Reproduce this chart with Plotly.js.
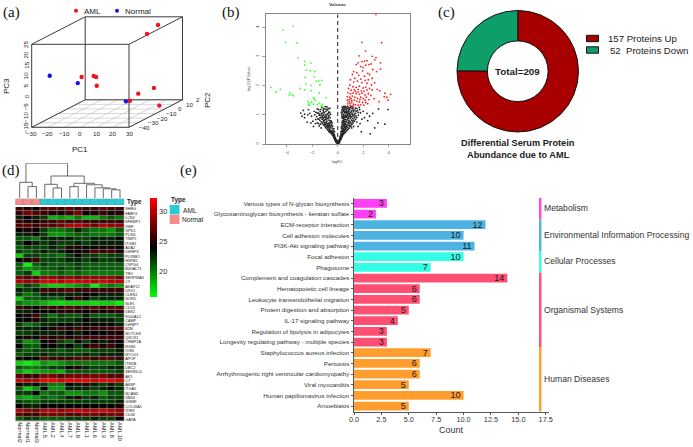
<!DOCTYPE html>
<html><head><meta charset="utf-8">
<script src="https://cdn.plot.ly/plotly-3.0.1.min.js"></script>
<style>html,body{margin:0;padding:0;background:#fff}#c{width:693px;height:447px}</style>
</head><body><div id="c"></div>
<script>
// ---------- panel (a) data: PC1, PC2, PC3
const amlPC1=[18.2,14.7,-15.7,-8.3,-6.8,-6.4,19.2,22.3,17.4,28.9];
const amlPC2=[14,8,-10,-10,-10,-10,-10,2,-16,-4];
const amlPC3=[22.4,19.4,2.6,3.1,2.6,-1.6,-5.4,-5.3,-7.5,-12.5];
const normPC1=[-25.5,-14.8,14.9];
const normPC2=[-28,-16,-16];
const normPC3=[7.2,1,-7.8];
const pc1Ticks=[-30,-20,-10,0,10,20,30];
const pc2Ticks=[-40,-30,-20,-10,0,10,20];
const pc2TickText=['−40','−30','−20','−10','0','10','2'];
const pc3Ticks=[-15,-10,-5,0,5,10,15,20,25];
// ---------- panel (b) data: [logFC, -log10(P.Value)]
const volcanoGreen=[[-3.5,4.03],[-4.3,3.9],[-4.1,3.48],[-3.2,3.46],[-3.1,2.95],[-2.6,2.83],[-2.1,2.77],[-2.6,2.7],[-2.45,2.53],[-2.15,2.51],[-1.8,2.48],[-1.85,2.3],[-2.55,2.28],[-1.7,2.15],[-1.5,2.16],[-1.25,2.18],[-5.25,1.94],[-4.85,1.78],[-4.5,1.87],[-3.75,1.77],[-3.8,1.68],[-3.6,1.69],[-3.47,1.65],[-2.95,1.9],[-2.6,1.85],[-2.5,2.05],[-2.1,2.01],[-1.4,2.03],[-1.45,1.74],[-2.1,1.83],[-1.85,1.55],[-0.9,1.58],[-2.35,1.47],[-2.25,1.4],[-1.9,1.36],[-1.6,1.35],[-1.3,1.31],[-1.12,1.28],[-2.2,1.33],[-1.78,1.5],[-2.05,1.43],[-1.45,1.4],[-1.2,1.36],[-1.9,1.58],[-2.3,1.34]];
const volcanoRed=[[3.0,4.43],[1.9,3.48],[3.45,3.47],[2.17,3.18],[2.7,3.0],[3.0,2.96],[1.67,3.02],[2.9,2.88],[2.3,2.85],[2.1,2.84],[1.9,2.82],[1.6,2.78],[1.45,2.72],[2.45,2.72],[2.62,2.74],[3.35,2.78],[2.2,2.7],[1.8,2.65],[2.0,2.62],[2.75,2.55],[3.35,2.56],[3.05,2.48],[1.25,2.48],[1.5,2.44],[1.95,2.5],[2.35,2.42],[1.15,2.38],[1.65,2.35],[2.1,2.32],[2.5,2.38],[1.35,2.25],[1.8,2.22],[2.15,2.18],[2.4,2.2],[2.7,2.25],[1.0,2.2],[1.25,2.12],[1.55,2.15],[1.9,2.1],[2.3,2.08],[2.65,2.02],[2.9,2.1],[0.95,2.02],[1.2,1.96],[1.45,1.94],[1.7,1.98],[2.0,1.92],[2.2,1.95],[2.5,1.9],[2.3,1.85],[0.85,1.9],[1.05,1.84],[1.3,1.85],[1.6,1.87],[1.85,1.82],[2.05,1.8],[2.7,1.85],[0.8,1.76],[1.0,1.72],[1.2,1.75],[1.45,1.72],[1.7,1.7],[1.9,1.74],[2.15,1.68],[2.4,1.72],[2.6,1.66],[0.75,1.62],[0.95,1.6],[1.15,1.64],[1.35,1.6],[1.55,1.56],[1.8,1.6],[2.0,1.55],[2.25,1.6],[2.15,1.5],[2.45,1.52],[0.75,1.5],[0.9,1.52],[1.1,1.48],[1.3,1.5],[1.5,1.46],[1.7,1.44],[1.95,1.42],[2.2,1.42],[2.35,1.38],[0.8,1.4],[0.95,1.38],[1.1,1.42],[1.25,1.36],[1.4,1.34],[1.6,1.33],[1.8,1.34],[2.05,1.33],[0.78,1.32],[1.0,1.31],[1.2,1.3],[3.1,1.87],[3.3,1.82],[3.7,1.74],[3.85,1.6],[3.95,1.5],[4.15,1.7],[3.25,1.45],[3.65,1.62],[2.85,1.55],[0.9,1.45],[1.05,1.55],[1.6,1.78],[1.4,1.8],[1.75,1.52]];
const volcanoBlack=[[-0.02,0.01],[0.03,0.02],[-0.05,0.03],[0.06,0.04],[-0.08,0.05],[0.09,0.03],[0.01,0.06],[-0.11,0.07],[0.12,0.08],[-0.14,0.06],[0.15,0.05],[-0.03,0.09],[0.05,0.1],[-0.17,0.1],[0.18,0.11],[-0.09,0.12],[0.1,0.13],[-0.2,0.13],[0.22,0.14],[-0.13,0.15],[0.14,0.16],[-0.24,0.16],[0.26,0.17],[-0.18,0.18],[0.2,0.19],[-0.28,0.2],[0.3,0.21],[-0.22,0.22],[0.24,0.23],[-0.32,0.24],[0.34,0.25],[-0.26,0.26],[0.28,0.27],[-0.36,0.28],[0.38,0.29],[-0.3,0.3],[0.32,0.31],[-0.42,0.31],[0.43,0.33],[-0.34,0.34],[0.36,0.35],[-0.48,0.35],[0.5,0.36],[-0.4,0.37],[0.41,0.38],[-0.55,0.38],[0.57,0.39],[-0.46,0.4],[0.46,0.41],[-0.62,0.41],[0.64,0.42],[-0.52,0.44],[0.35,0.44],[-0.7,0.45],[0.52,0.45],[0.72,0.46],[-0.58,0.47],[0.4,0.48],[-0.78,0.48],[0.6,0.49],[0.8,0.5],[-0.66,0.5],[0.47,0.52],[-0.85,0.52],[0.68,0.53],[0.88,0.54],[-0.72,0.55],[0.38,0.55],[-0.93,0.56],[0.55,0.57],[0.76,0.58],[-0.8,0.58],[0.96,0.59],[-0.55,0.6],[-1.0,0.6],[0.43,0.6],[0.63,0.61],[1.04,0.62],[-0.88,0.63],[0.84,0.63],[-1.1,0.65],[-0.64,0.65],[0.5,0.65],[0.72,0.66],[1.12,0.67],[-0.95,0.68],[0.36,0.68],[0.92,0.69],[-1.2,0.7],[-0.72,0.7],[0.58,0.7],[1.2,0.72],[-1.03,0.73],[0.8,0.72],[0.45,0.74],[-0.62,0.75],[-1.3,0.76],[1.0,0.75],[0.66,0.76],[1.3,0.78],[-0.85,0.78],[-1.12,0.79],[0.52,0.78],[0.88,0.8],[0.38,0.8],[-1.4,0.81],[-0.7,0.82],[1.08,0.82],[0.74,0.83],[-0.98,0.84],[1.4,0.84],[0.6,0.84],[-1.22,0.85],[0.45,0.86],[-1.55,0.86],[0.96,0.87],[-0.78,0.88],[1.18,0.88],[0.82,0.89],[-1.08,0.9],[0.34,0.89],[0.54,0.91],[-1.32,0.91],[1.5,0.91],[0.68,0.92],[-0.9,0.93],[1.05,0.93],[-1.65,0.94],[0.42,0.94],[0.9,0.95],[-0.72,0.96],[1.28,0.96],[-1.18,0.97],[0.6,0.97],[-1.45,0.98],[0.76,0.99],[1.62,0.99],[0.48,1.0],[-0.98,1.0],[1.0,1.0],[-1.8,1.0],[0.32,1.01],[1.15,1.02],[-0.82,1.03],[0.66,1.03],[-1.28,1.04],[0.85,1.05],[1.4,1.05],[0.4,1.06],[-1.6,1.06],[-1.05,1.07],[0.55,1.07],[1.78,1.07],[0.98,1.08],[-2.2,1.05],[0.72,1.09],[-0.7,1.09],[1.25,1.1],[0.36,1.11],[-1.38,1.11],[-0.92,1.12],[0.6,1.12],[-2.6,1.02],[1.08,1.13],[0.85,1.14],[0.46,1.14],[-1.15,1.15],[1.55,1.15],[0.7,1.16],[-0.78,1.16],[2.0,1.12],[0.32,1.17],[0.95,1.18],[-1.5,1.18],[0.55,1.19],[1.2,1.2],[-1.0,1.2],[-2.3,1.18],[0.4,1.21],[0.78,1.21],[-0.62,1.22],[2.3,1.05],[0.65,1.23],[1.38,1.23],[0.88,1.25],[0.5,1.25],[-1.25,1.25],[-2.7,1.15],[0.35,1.26],[1.7,1.25],[0.74,1.27],[-0.85,1.27],[1.05,1.28],[0.58,1.29],[2.5,0.95],[2.75,1.05],[3.2,1.2],[3.95,1.18],[3.7,0.68],[3.15,0.72],[2.1,0.9],[2.35,0.8],[1.9,0.85],[1.75,0.7],[2.55,0.35],[1.85,0.42],[1.5,0.75],[1.6,0.6],[2.9,0.55],[-1.95,0.78],[-2.05,0.95],[-2.4,0.75],[-1.75,0.7],[-2.6,0.9],[-1.6,0.72],[-1.45,0.62],[-2.1,0.72],[-1.9,0.6],[-1.3,0.55],[-2.8,0.95],[-2.9,1.06],[-2.35,1.0],[1.1,0.55],[1.25,0.6],[-0.4,0.62],[-0.5,0.78],[-0.6,0.9],[0.25,0.42],[-0.25,0.42],[0.28,0.55],[-0.3,0.52],
[0.31,0.62],[0.39,0.66],[0.33,0.74],[0.44,0.79],[0.49,0.7],[0.53,0.84],[0.42,0.9],[0.47,0.96],[0.56,0.75],[0.62,0.68],[0.69,0.78],[0.58,0.93],[0.63,1.08],[0.71,0.95],[0.79,1.02],[0.83,0.94],[0.87,1.1],[0.93,1.02],[0.78,0.86],[0.9,0.76],[1.02,0.9],[0.98,0.96],[1.1,1.06],[1.16,0.96],[1.22,1.14],[1.12,1.22],[1.3,1.02],[1.35,1.16],[1.45,1.12],[1.5,1.22],[1.33,0.9],[1.24,0.82],[1.15,0.78],[1.06,0.7],[0.95,0.64],[0.85,0.72],[1.42,0.96],[1.6,1.08],[1.72,1.18],[0.53,0.62],[0.61,0.55],[0.7,0.6],[0.49,0.48],[0.42,0.52],[0.55,0.5],[0.33,0.52],[0.3,0.44],[0.27,0.36],[0.23,0.3],[0.19,0.25],[0.17,0.2],[0.29,0.33],[0.37,0.42],[0.45,0.6],[0.34,0.95],[0.29,1.08],[0.43,1.18],[0.51,1.12],[0.67,1.17],[0.77,1.1],[0.9,1.2],[1.0,1.25],[1.18,1.27],[0.62,1.26],[0.47,1.29],
[-0.33,0.45],[-0.38,0.52],[-0.45,0.55],[-0.5,0.65],[-0.43,0.72],[-0.54,0.72],[-0.58,0.8],[-0.66,0.72],[-0.75,0.62],[-0.68,0.6],[-0.83,0.7],[-0.9,0.74],[-0.95,0.9],[-0.74,0.9],[-0.66,0.98],[-0.56,1.02],[-0.63,1.08],[-0.76,1.04],[-0.88,0.98],[-1.02,0.94],[-1.12,1.0],[-1.22,0.92],[-1.3,0.98],[-1.38,0.9],[-1.48,0.85],[-1.15,0.86],[-1.05,0.8],[-1.18,0.74],[-0.98,0.72],[-1.35,0.68],[-1.5,0.7],[-1.42,1.02],[-1.52,1.06],[-1.7,1.08],[-1.72,0.84],[-1.1,1.1],[-1.2,1.06],[-0.87,1.18],[-0.75,1.22],[-0.98,1.28],[-1.12,1.2],[-1.35,1.18],[-1.6,1.2],[-1.85,1.12],[-0.5,0.46],[-0.6,0.55],[-0.68,0.42],[-0.44,0.44],[-0.37,0.4],[-0.27,0.33],[-0.24,0.28],[-0.2,0.22],[-0.16,0.17],[-0.78,0.67],[-0.88,0.84],[-1.02,0.66],[-0.83,0.6]];
// ---------- panel (c) data
const pieLabels=['157 Proteins Up','52  Proteins Down'];
const pieValues=[157,52];
// ---------- panel (d) data
const geneColumns=['Normal2','Normal1','Normal3','AML.5','AML.2','AML.4','AML.7','AML.9','AML.1','AML.6','AML.3','AML.8','AML.10'];
const columnType=[1,1,1,0,0,0,0,0,0,0,0,0,0];
const geneNames=['SHBG','FABP4','LCN2','EFEMP1','VWF','GPD1','PLIN1','TIMP2','ITGB3','ADA2','IGFBP3','PLXNB1','HSPB1','CSPG4','B4GALT1','TIE1','SERPINA3','C9','AKAP12','LRG1','CLEN1','SORD','NLE1','CD14','DBS2','S100A12','CAMP','IGFBP7','B2M','NOTCH3','QSOX1','CHMP1A','RGN1','OGN','HYOU1','APOF','ITM2B','DBC2','SERINC4','AK1','C7','AKBP','ITGA5','NCAM2','VBS4','GSMR','COL18A1','ITIH3','CD44','GAPA'];
const geneMatrix=[
[26,25,24,27,27,26,27,26,26,26,27,26,26],
[26,28,27,26,25,25,26,28,24,25,26,25,25],
[23,24,23,22,18,19,18,20,18,18,20,21,20],
[26,25,25,26,26,27,26,27,26,26,26,26,26],
[27,27,26,27,27,28,30,30,29,28,30,29,29],
[24,25,24,22,20,20,21,23,21,20,20,19,21],
[23,23,24,22,19,19,20,21,21,20,20,20,21],
[21,21,20,23,23,23,23,22,22,23,23,23,24],
[22,24,23,22,23,22,22,23,22,23,23,23,23],
[21,22,22,22,23,22,25,25,24,24,25,25,24],
[22,21,22,23,22,23,24,24,25,27,26,26,25],
[17,22,22,21,21,20,22,24,22,22,21,22,22],
[24,25,26,22,22,22,23,23,22,23,22,22,23],
[21,15.8,21,22,21,21,21,22,21,21,21,21,21],
[21,19,20,21,21,22,21,22,21,21,21,21,21],
[21,22,17,20,20,21,20,21,20,20,20,20,20],
[28,27,27,29,29,28,29,28,29,29,29,29,28],
[30,29,29,31,31,30,31,31,31,30,31,30,30],
[20,22,21,18,17,17,18,19,20,16,19,20,19],
[23,22,23,26,26,26,27,26,26,26,26,26,26],
[22,20,21,23,23,23,23,23,24,24,23,23,23],
[17,21,21,22,21,21,24,26,24,22,23,23,23],
[20,19,19,18,17,16.5,17,17,17,16.5,17,17,16],
[26,25,24,26,26,26,27,26,26,27,26,27,27],
[23,23,24,24,24,25,25,25,24,25,24,25,25],
[24,25,26,22,20,22,21,21,23,21,21,21,22],
[24,24,25,23,22,22,22,23,24,23,23,23,22],
[22,20,21,23,23,24,24,23,24,24,24,24,23],
[23,23,23,24,25,26,25,26,25,26,26,26,27],
[22,22,23,23,23,23,24,23,24,24,24,25,25],
[24,25,24,26,25,26,25,26,26,26,26,26,26],
[22,19,20,24,25,22,21,24,22,24,23,25,24],
[24,21,21,24,24,23,24,22,25,26,25,26,24],
[22,21,22,22,22,21,22,21,21,22,22,22,23],
[21,22,22,23,22,22,22,22,23,22,23,23,23],
[25,24,24,27,26,26,26,27,27,26,27,27,26],
[17,16,17,19,18,19,20,20,20,20,20,20,21],
[21,20,20,21,22,22,24,25,23,22,22,23,23],
[19,17,18,19,19,18,21,21,21,21,21,21,22],
[27,26,26,28,28,27,28,28,28,28,28,27,27],
[31,30,30,32,32,31,32,32,32,31,32,32,31],
[24,23,24,22,20,20,24,23,25,23,22,23,22],
[21,17,19,24,19,19,23,23,23,22,23,24,23],
[22,22,24,20,21,21,19,19,20,20,19,21,21],
[19,18,19,21,20,21,23,25,22,23,21,22,22],
[22,21,21,22,22,22,22,22,22,22,22,22,23],
[24,23,23,24,24,24,24,24,24,24,24,24,25],
[30,29,28,30,30,29,30,31,30,30,31,30,29],
[27,26,26,28,28,28,27,27,28,28,27,28,28],
[21,22,22,21,21,21,22,22,22,23,22,22,24]];
// dendrogram merges: left x, left height, right x, right height, merge height
const dendroMerges=[
[1,0,2,0,11.7],[0,0,1.5,11.7,16],
[4,0,5,0,10.3],[3,0,4.5,10.3,14],
[6,0,7,0,11.7],
[11,0,12,0,8.5],[10,0,11.5,8.5,9.5],[9,0,10.75,9.5,10.5],[8,0,9.875,10.5,13.5],
[6.5,11.7,8.94,13.5,15],[3.75,14,7.72,15,22.3],[0.75,16,5.73,22.3,35]];
// ---------- panel (e) data
const pathways=['Various types of N-glycan biosynthesis','Glycosaminoglycan biosynthesis - keratan sulfate','ECM-receptor interaction','Cell adhesion molecules','PI3K-Akt signaling pathway','Focal adhesion','Phagosome','Complement and coagulation cascades','Hematopoietic cell lineage','Leukocyte transendothelial migration','Protein digestion and absorption','IL-17 signaling pathway','Regulation of lipolysis in adipocytes','Longevity regulating pathway - multiple species','Staphylococcus aureus infection','Pertussis','Arrhythmogenic right ventricular cardiomyopathy','Viral myocarditis','Human papillomavirus infection','Amoebiasis'];
const pathwayCounts=[3,2,12,10,11,10,7,14,6,6,5,4,3,3,7,6,6,5,10,5];
const classNames=['Metabolism','Environmental Information Processing','Cellular Processes','Organismal Systems','Human Diseases'];
const classStart=[0,2,5,7,14];
const classEnd=[1,4,6,13,19];
const classColors=['#FF40F5','#4DB3E3','#33FFE6','#FF4F73','#FF9E2E'];

const W=693,H=447;
const FONT='Liberation Sans, Arial, sans-serif', SERIF='Liberation Serif, Times New Roman, serif';
const dx=(a,b)=>[a/W,b/W], dy=(t,b)=>[1-b/H,1-t/H];
const ann=[],shp=[],traces=[];
function note(text,x,y,size,o={}){ann.push(Object.assign({text,x:x/W,y:1-y/H,xref:'paper',yref:'paper',showarrow:false,font:{size,family:FONT,color:o.color||'#222',weight:o.bold?'bold':'normal'},xanchor:'center',yanchor:'middle',borderpad:0},o.a||{}));}
// panel labels
[['(a)',11,13],['(b)',230.5,13],['(c)',446,13],['(d)',11,170],['(e)',188,170]].forEach(l=>ann.push({text:l[0],x:l[1]/W,y:1-l[2]/H,xref:'paper',yref:'paper',showarrow:false,font:{size:15,family:SERIF,color:'#111'},xanchor:'center',yanchor:'middle'}));

// ---- (a) oblique box: scales
const proj=(p1,p2,p3)=>{const t=(p2+40)/60;return [31.7+(p1+30)/60*97.3+t*53.5,127.3-(p3+15)/40*83-t*27.5];};
function line3(pts,color,width){const q=pts.map(p=>proj(p[0],p[1],p[2]));traces.push({type:'scatter',mode:'lines',xaxis:'x',yaxis:'y',x:q.map(v=>v[0]),y:q.map(v=>v[1]),line:{color,width},hoverinfo:'skip',showlegend:false});}
pc1Ticks.forEach(v=>line3([[v,-40,-15],[v,20,-15]],'#c9c9c9',0.7));
pc2Ticks.forEach(v=>line3([[-30,v,-15],[30,v,-15]],'#c9c9c9',0.7));
const boxCol='#3c3c3c';
line3([[-30,20,-15],[-30,20,25],[30,20,25],[30,20,-15],[-30,20,-15]],boxCol,1);
line3([[-30,-40,-15],[-30,-40,25],[30,-40,25],[30,-40,-15],[-30,-40,-15]],boxCol,1);
[[-30,-15],[30,-15],[-30,25],[30,25]].forEach(c=>line3([[c[0],-40,c[1]],[c[0],20,c[1]]],boxCol,1));
function pts3(a,b,c,color,name){const q=a.map((v,i)=>proj(v,b[i],c[i]));traces.push({type:'scatter',mode:'markers',name,xaxis:'x',yaxis:'y',x:q.map(v=>v[0]),y:q.map(v=>v[1]),marker:{color,size:4.4},showlegend:false});}
pts3(amlPC1,amlPC2,amlPC3,'#F0141E','AML');
pts3(normPC1,normPC2,normPC3,'#1212E6','Normal');
pc1Ticks.forEach(v=>{const p=proj(v,-40,-15);note(String(v).replace('-','−'),p[0],p[1]+6,6.2);});
pc2Ticks.forEach((v,i)=>{const p=proj(30,v,-15);note(pc2TickText[i],p[0]+15.5,p[1],6.2);});
pc3Ticks.forEach(v=>{const p=proj(-30,-40,v);note(String(v).replace('-','−'),25.7,p[1],6.2,{a:{textangle:-90}});});
note('PC1',80,150,8);note('PC3',6,86,8,{a:{textangle:-90}});note('PC2',207,100,8,{a:{textangle:-90}});
shp.push({type:'circle',xref:'paper',yref:'paper',x0:74/W,x1:78/W,y0:1-12.7/H,y1:1-8.7/H,fillcolor:'#F0141E',line:{width:0}});
shp.push({type:'circle',xref:'paper',yref:'paper',x0:115/W,x1:119/W,y0:1-12.7/H,y1:1-8.7/H,fillcolor:'#1212E6',line:{width:0}});
note('AML',83,11,8,{a:{xanchor:'left'}});note('Normal',124,11,8,{a:{xanchor:'left'}});

// ---- (b) volcano
function vol(set,color,name){traces.push({type:'scatter',mode:'markers',name,xaxis:'x2',yaxis:'y2',x:set.map(p=>p[0]),y:set.map(p=>p[1]),marker:{color,size:1.8,line:{width:0}},showlegend:false});}
vol(volcanoBlack,'#222222','Not significant');vol(volcanoGreen,'#33FF33','Down');vol(volcanoRed,'#FF2020','Up');
traces.push({type:'scatter',mode:'lines',xaxis:'x2',yaxis:'y2',x:[0,0],y:[0,4.44],line:{color:'#222',width:1,dash:'4px,3px'},hoverinfo:'skip',showlegend:false});
note('Volcano',337.5,5,4.4,{color:'#333',bold:true});
note('logFC',337.5,161.7,4,{color:'#444'});
note('-log10(P.Value)',249,79,3.8,{a:{textangle:-90},color:'#444'});

// ---- (c) donut
traces.push({type:'pie',labels:pieLabels,values:pieValues,hole:0.5,sort:false,direction:'clockwise',rotation:0,textinfo:'none',marker:{colors:['#A80000','#0E9E6A'],line:{color:'#111',width:1}},domain:{x:dx(457,578.5),y:dy(10.5,132)},showlegend:false,hoverinfo:'label+value'});
note('Total=209',517.7,71.5,9.8,{bold:true});
[[38.5,'#A80000'],[50,'#0E9E6A']].forEach(s=>shp.push({type:'rect',xref:'paper',yref:'paper',x0:586.5/W,x1:598.5/W,y0:1-(s[0]+3.2)/H,y1:1-(s[0]-3.2)/H,fillcolor:s[1],line:{color:'#111',width:1}}));
note(pieLabels[0],607,38.5,9.6,{a:{xanchor:'left'}});
note(pieLabels[1].replace('  ','\u00a0\u00a0'),609,50,9.6,{a:{xanchor:'left'}});
note('Differential Serum Protein',518,143,9.2,{bold:true});
note('Abundance due to AML',518,155,9.2,{bold:true});

// ---- (d) heatmap
shp.push({type:'rect',xref:'paper',yref:'paper',x0:15.5/W,x1:124.2/W,y0:1-421.3/H,y1:1-206.9/H,fillcolor:'#8a8a8a',line:{width:0},layer:'below'});
const colIdx=geneColumns.map((_,i)=>i), rowIdx=geneNames.map((_,i)=>i);
traces.push({type:'heatmap',xaxis:'x3',yaxis:'y3',x:colIdx,y:rowIdx,z:geneMatrix,zmin:15.8,zmax:32.3,xgap:0.7,ygap:0.7,
 colorscale:[[0,'#00FF00'],[0.5,'#000000'],[1,'#FF0000']],
 colorbar:{x:150/W,xanchor:'left',y:1-247.5/H,yanchor:'middle',thickness:7,thicknessmode:'pixels',len:99/H,lenmode:'fraction',tickvals:[20,25,30],ticks:'',tickfont:{size:7.5,family:FONT,color:'#333'},outlinewidth:0,xpad:0,ypad:0}});
shp.push({type:'rect',xref:'paper',yref:'paper',x0:15.5/W,x1:124.2/W,y0:1-205/H,y1:1-198.7/H,fillcolor:'#8a8a8a',line:{width:0},layer:'below'});
traces.push({type:'heatmap',xaxis:'x4',yaxis:'y4',x:colIdx,y:[0],z:[columnType],zmin:0,zmax:1,xgap:0.7,colorscale:[[0,'#27CBD8'],[1,'#F58C8C']],showscale:false,hoverinfo:'skip'});
const dX=[],dY=[];dendroMerges.forEach(m=>{dX.push(m[0],m[0],m[2],m[2],null);dY.push(m[1],m[4],m[4],m[3],null);});
traces.push({type:'scatter',mode:'lines',xaxis:'x5',yaxis:'y5',x:dX,y:dY,line:{color:'#5a5a5a',width:0.9},hoverinfo:'skip',showlegend:false});
note('Type',126,202,6.4,{a:{xanchor:'left'},bold:true});
note('Type',170,200,6.4,{a:{xanchor:'left'},bold:true});
[[205,214.3,'#27CBD8'],[214.7,224,'#F58C8C']].forEach(s=>shp.push({type:'rect',xref:'paper',yref:'paper',x0:169.7/W,x1:179.5/W,y0:1-s[1]/H,y1:1-s[0]/H,fillcolor:s[2],line:{width:0}}));
note('AML',182,210,6.6,{a:{xanchor:'left'}});note('Normal',181,219.5,6.6,{a:{xanchor:'left'}});

// ---- (e) bars
const pathIdx=pathways.map((_,i)=>i);
const barColors=pathways.map((_,i)=>classColors[classStart.findIndex((s,k)=>i>=s&&i<=classEnd[k])]);
traces.push({type:'bar',orientation:'h',xaxis:'x6',yaxis:'y6',y:pathIdx,x:pathwayCounts,width:0.82,marker:{color:barColors,line:{width:0}},text:pathwayCounts.map(String),textposition:'inside',insidetextanchor:'end',constraintext:'none',textangle:0,textfont:{size:9,family:FONT,color:'#1a1a1a'},showlegend:false});
classNames.forEach((c,i)=>{
 traces.push({type:'scatter',mode:'lines',xaxis:'x6',yaxis:'y6',x:[17,17],y:[classStart[i]-0.5,classEnd[i]+0.5],line:{color:classColors[i],width:2.4},hoverinfo:'skip',showlegend:false,name:c});
});
[[208,0],[235,1],[261,2],[309.5,3],[379,4]].forEach(r=>note(classNames[r[1]],543,r[0],8.6,{a:{xanchor:'left'},color:'#333'}));
note('Count',451.7,430,9,{color:'#333'});

const hidden={visible:false,fixedrange:true};
const layout={width:W,height:H,margin:{l:0,r:0,t:0,b:0,pad:0},paper_bgcolor:'#fff',plot_bgcolor:'rgba(0,0,0,0)',showlegend:false,font:{family:FONT},
 annotations:ann,shapes:shp,
 xaxis:Object.assign({domain:dx(0,220),range:[0,220]},hidden),
 yaxis:Object.assign({domain:dy(0,170),range:[170,0]},hidden),
 xaxis2:{domain:dx(265.7,410),range:[-5.65,5.67],tickvals:[-4,-2,0,2,4],showline:true,mirror:true,linecolor:'#666',linewidth:0.8,ticks:'outside',ticklen:2.5,tickwidth:0.6,tickcolor:'#666',ticklabelstandoff:2,tickfont:{size:3.8,color:'#444'},showgrid:false,zeroline:false,anchor:'y2'},
 yaxis2:{domain:dy(14.3,144),range:[0,4.44],tickvals:[0,1,2,3,4],tickangle:-90,showline:true,mirror:true,linecolor:'#666',linewidth:0.8,ticks:'outside',ticklen:2.5,tickwidth:0.6,tickcolor:'#666',ticklabelstandoff:2,tickfont:{size:3.8,color:'#444'},showgrid:false,zeroline:false,anchor:'x2'},
 xaxis3:{domain:dx(15.5,124.2),range:[-0.5,12.5],tickmode:'array',tickvals:colIdx,ticktext:geneColumns,tickangle:90,ticks:'',tickfont:{size:5.4,color:'#222'},showgrid:false,zeroline:false,showline:false,anchor:'y3'},
 yaxis3:{domain:dy(206.9,421.3),range:[49.5,-0.5],side:'right',tickmode:'array',tickvals:rowIdx,ticktext:geneNames,ticks:'',tickfont:{size:3.8,color:'#222'},showgrid:false,zeroline:false,showline:false,anchor:'x3'},
 xaxis4:Object.assign({domain:dx(15.5,124.2),range:[-0.5,12.5],anchor:'y4'},hidden),
 yaxis4:Object.assign({domain:dy(198.7,205),range:[-0.5,0.5],anchor:'x4'},hidden),
 xaxis5:Object.assign({domain:dx(15.5,124.2),range:[-0.5,12.5],anchor:'y5'},hidden),
 yaxis5:Object.assign({domain:dy(163.3,198.3),range:[0,35],anchor:'x5'},hidden),
 xaxis6:{domain:dx(354,549),range:[0,17.8],tickvals:[0,2.5,5,7.5,10,12.5,15,17.5],tickformat:'.1f',showline:true,linecolor:'#555',linewidth:1,ticks:'outside',ticklen:2.5,tickcolor:'#555',ticklabelstandoff:-2,tickfont:{size:7.3,color:'#333'},showgrid:false,zeroline:false,anchor:'y6'},
 yaxis6:{domain:dy(198,411.7),range:[19.53,-0.5],tickmode:'array',tickvals:pathIdx,ticktext:pathways,showline:true,linecolor:'#555',linewidth:1,ticks:'outside',ticklen:2.5,tickcolor:'#555',tickfont:{size:6.2,color:'#333'},showgrid:false,zeroline:false,anchor:'x6'},
 bargap:0.18
};
Plotly.newPlot('c',traces,layout,{displayModeBar:false,staticPlot:true});
</script></body></html>
